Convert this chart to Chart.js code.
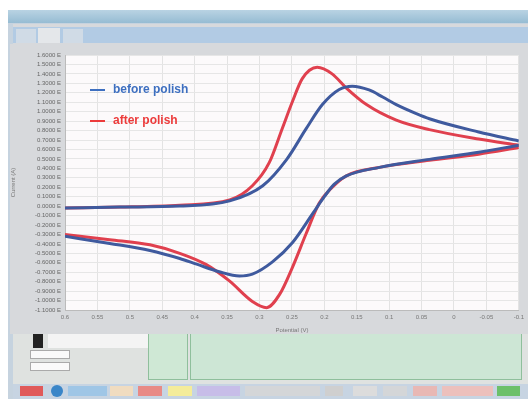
<!DOCTYPE html>
<html>
<head>
<meta charset="utf-8">
<script src="https://cdn.jsdelivr.net/npm/chart.js@4"></script>
<style>
  body { margin: 0; width: 528px; height: 399px; background: #fff; position: relative; overflow: hidden; font-family: "Liberation Sans", Arial, sans-serif; }
  .blk { position: absolute; }
  #wrap { position: absolute; left: 10px; top: 44px; width: 518px; height: 290px; }
  .leg { position: absolute; font-weight: bold; font-size: 12px; }
  .leg span { display: inline-block; width: 15px; height: 2px; margin-right: 8px; vertical-align: middle; }
</style>
</head>
<body>
<!-- window chrome -->
<div class="blk" style="left:8px;top:10px;width:520px;height:389px;background:#c6d3df;"></div>
<div class="blk" style="left:8px;top:10px;width:520px;height:13px;background:linear-gradient(#b9d3e3,#96bcd3);"></div>
<div class="blk" style="left:13px;top:24px;width:515px;height:362px;background:#d7d9dc;"></div>
<div class="blk" style="left:13px;top:27px;width:515px;height:16px;background:#b2cbe4;"></div>
<div class="blk" style="left:16px;top:29px;width:20px;height:14px;background:#d0dbe6;"></div>
<div class="blk" style="left:38px;top:28px;width:22px;height:15px;background:#e4e7ea;"></div>
<div class="blk" style="left:63px;top:29px;width:20px;height:14px;background:#d0dbe6;"></div>
<!-- bottom panel -->
<div class="blk" style="left:13px;top:332px;width:515px;height:52px;background:#dfe2e0;"></div>
<div class="blk" style="left:33px;top:320px;width:10px;height:28px;background:#222;"></div>
<div class="blk" style="left:48px;top:320px;width:100px;height:28px;background:#f4f4f4;"></div>
<div class="blk" style="left:30px;top:350px;width:38px;height:7px;background:#fafafa;border:1px solid #aaa;"></div>
<div class="blk" style="left:30px;top:362px;width:38px;height:7px;background:#fafafa;border:1px solid #aaa;"></div>
<div class="blk" style="left:148px;top:332px;width:38px;height:46px;background:#cfe8d5;border:1px solid #8fbf9c;"></div>
<div class="blk" style="left:190px;top:332px;width:330px;height:46px;background:#cde6d5;border:1px solid #8fbf9c;"></div>
<div class="blk" style="left:13px;top:384px;width:515px;height:15px;background:#c7d4e2;"></div>
<div class="blk" style="left:20px;top:386px;width:23px;height:10px;background:#e05a5a;"></div>
<div class="blk" style="left:51px;top:385px;width:12px;height:12px;border-radius:6px;background:#3a86c8;"></div>
<div class="blk" style="left:68px;top:386px;width:39px;height:10px;background:#9fc6e6;"></div>
<div class="blk" style="left:110px;top:386px;width:23px;height:10px;background:#f0dcc0;"></div>
<div class="blk" style="left:138px;top:386px;width:24px;height:10px;background:#e88a86;"></div>
<div class="blk" style="left:168px;top:386px;width:24px;height:10px;background:#f4ec9a;"></div>
<div class="blk" style="left:197px;top:386px;width:43px;height:10px;background:#c7bde8;"></div>
<div class="blk" style="left:245px;top:386px;width:75px;height:10px;background:#d4d6d8;"></div>
<div class="blk" style="left:325px;top:386px;width:18px;height:10px;background:#cfcfcf;"></div>
<div class="blk" style="left:353px;top:386px;width:24px;height:10px;background:#dcdcdc;"></div>
<div class="blk" style="left:383px;top:386px;width:24px;height:10px;background:#d4d6d8;"></div>
<div class="blk" style="left:413px;top:386px;width:24px;height:10px;background:#e8b8b4;"></div>
<div class="blk" style="left:442px;top:386px;width:51px;height:10px;background:#ecc0bc;"></div>
<div class="blk" style="left:497px;top:386px;width:23px;height:10px;background:#6cc06a;"></div>

<div id="wrap"><canvas id="cv"></canvas></div>
<div class="leg" style="left:90px;top:82px;color:#3d6fc0;"><span style="background:#3d6fc0"></span>before polish</div>
<div class="leg" style="left:90px;top:113px;color:#ec3b3b;"><span style="background:#ec3b3b"></span>after polish</div>

<script>
// values: potential (V) and current for each sweep branch
const beforeFwdV = [0.6, 0.515, 0.423, 0.346, 0.295, 0.258, 0.228, 0.203, 0.177, 0.157, 0.131, 0.11, 0.089, 0.06, 0.038, -0.038, -0.1];
const beforeFwdI = [-0.2, -0.1, 0, 0.55, 2.15, 4.95, 8.2, 10.75, 12.35, 12.7, 12.3, 11.55, 10.75, 9.85, 9.25, 7.85, 6.9];
const beforeRevV = [-0.1, -0.038, 0.038, 0.115, 0.166, 0.185, 0.2, 0.218, 0.249, 0.28, 0.311, 0.331, 0.362, 0.397, 0.423, 0.469, 0.531, 0.6];
const beforeRevI = [6.45, 5.7, 4.95, 4.1, 3.2, 2.3, 1.0, -0.8, -3.85, -5.9, -7.2, -7.4, -6.95, -6.15, -5.55, -4.7, -3.95, -3.2];

const afterFwdV = [0.6, 0.515, 0.423, 0.346, 0.311, 0.285, 0.265, 0.249, 0.234, 0.211, 0.188, 0.166, 0.135, 0.089, 0.038, -0.038, -0.1];
const afterFwdI = [-0.2, -0.1, 0.1, 0.65, 2.15, 4.6, 8.2, 11.1, 13.5, 14.7, 14.0, 12.5, 10.75, 9.1, 8.1, 7.1, 6.45];
const afterRevV = [-0.1, -0.038, 0.038, 0.115, 0.166, 0.192, 0.208, 0.228, 0.249, 0.269, 0.289, 0.311, 0.346, 0.382, 0.423, 0.469, 0.531, 0.6];
const afterRevI = [6.2, 5.5, 4.85, 4.1, 3.2, 1.7, 0.3, -2.9, -6.45, -9.35, -10.75, -10.1, -7.95, -6.2, -5.0, -4.1, -3.55, -3.0];

const xTicks = [0.6, 0.55, 0.5, 0.45, 0.4, 0.35, 0.3, 0.25, 0.2, 0.15, 0.1, 0.05, 0, -0.05, -0.1];

const blue = '#3f5a9e';
const red = '#e0404e';

function branch(xs, ys, color) {
  return {
    data: xs.map((x, i) => ({ x: x, y: ys[i] })),
    showLine: true,
    borderColor: color,
    borderWidth: 3,
    pointRadius: 0,
    cubicInterpolationMode: 'monotone'
  };
}

const plotBg = {
  id: 'plotBg',
  beforeDraw(chart) {
    const { ctx, chartArea: a } = chart;
    ctx.save();
    ctx.fillStyle = '#d7d9dc';
    ctx.fillRect(0, 0, chart.width, chart.height);
    ctx.fillStyle = '#fcfafb';
    ctx.fillRect(a.left, a.top, a.right - a.left, a.bottom - a.top);
    ctx.restore();
  }
};

new Chart(document.getElementById('cv'), {
  type: 'scatter',
  data: {
    datasets: [
      branch(beforeFwdV, beforeFwdI, blue),
      branch(beforeRevV, beforeRevI, blue),
      branch(afterFwdV, afterFwdI, red),
      branch(afterRevV, afterRevI, red)
    ]
  },
  options: {
    responsive: true,
    maintainAspectRatio: false,
    animation: false,
    layout: { padding: { left: 0, top: 11, right: 8, bottom: 0 } },
    plugins: { legend: { display: false }, tooltip: { enabled: false } },
    scales: {
      x: {
        type: 'linear',
        reverse: true,
        min: -0.1,
        max: 0.6,
        afterBuildTicks: (s) => { s.ticks = xTicks.map(v => ({ value: v })); },
        afterFit: (s) => { s.height = 24; },
        grid: { color: '#e3e3e3', drawTicks: false },
        border: { color: '#bbb' },
        ticks: { color: '#777', font: { size: 6 }, padding: 4, autoSkip: false,
                 callback: (v) => String(Math.round(v * 100) / 100) },
        title: { display: true, text: 'Potential (V)', color: '#777', font: { size: 6 }, padding: 0 }
      },
      y: {
        min: -11,
        max: 16,
        afterFit: (s) => { s.width = 55; },
        grid: { color: '#e6e6e6', drawTicks: false },
        border: { color: '#bbb' },
        ticks: { stepSize: 1, color: '#666', font: { size: 6 }, padding: 4, autoSkip: false,
                 callback: (v) => (v / 10).toFixed(4) + ' E' },
        title: { display: true, text: 'Current (A)', color: '#777', font: { size: 6 }, padding: 0 }
      }
    }
  },
  plugins: [plotBg]
});
</script>
</body>
</html>
